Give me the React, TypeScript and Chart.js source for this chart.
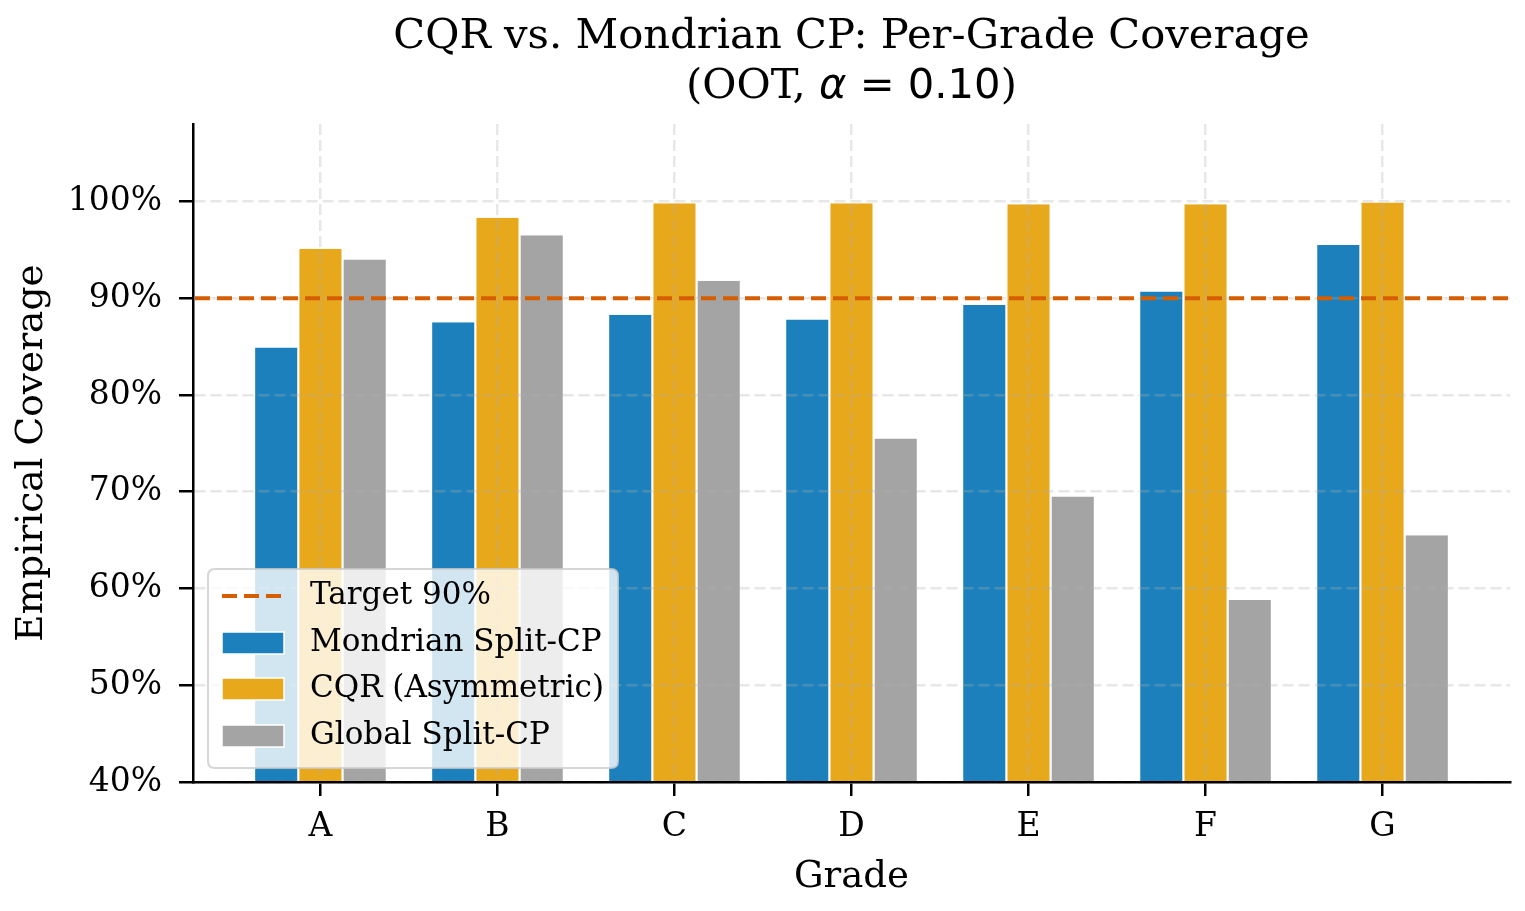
import React, { useEffect, useRef } from "react";
import { Chart, registerables } from "chart.js";

Chart.register(...registerables);

const CATEGORIES = ["A", "B", "C", "D", "E", "F", "G"];
const MONDRIAN = [84.9, 87.5, 88.3, 87.8, 89.3, 90.7, 95.5];
const CQR = [95.1, 98.3, 99.8, 99.8, 99.7, 99.7, 99.9];
const GLOBAL = [94.0, 96.5, 91.8, 75.5, 69.5, 58.8, 65.5];
const TARGET = 90;
const Y_TICKS = [40, 50, 60, 70, 80, 90, 100];
const Y_MIN = 40;
const Y_MAX = 108;
const X_PAD = 0.72;

const SERIES_NAMES = ["Target 90%", "Mondrian Split-CP", "CQR (Asymmetric)", "Global Split-CP"];
const COLORS = ["#d55e00", "#1b80bb", "#e8a81c", "#a4a4a4"];

const SERIF = "'DejaVu Serif', serif";
const SANS = "'DejaVu Sans', sans-serif";
const GRID_COLOR = "rgba(176,176,176,0.3)";
const TARGET_DASH = [15, 7];
const TARGET_WIDTH = 4;

const titlePlugin = {
  id: "customTitle",
  afterDraw(chart: any) {
    const { ctx, chartArea } = chart;
    const cx = (chartArea.left + chartArea.right) / 2;
    ctx.save();
    ctx.fillStyle = "#000";
    ctx.textBaseline = "alphabetic";
    ctx.textAlign = "left";
    ctx.font = `41.7px ${SERIF}`;
    const l1 = "CQR vs. Mondrian CP: Per-Grade Coverage";
    const w1 = ctx.measureText(l1).width;
    ctx.fillText(l1, cx - w1 / 2, 48);
    const parts = [
      { t: "(OOT, ", f: `41.7px ${SERIF}` },
      { t: "α", f: `italic 41.7px ${SANS}` },
      { t: " = 0.10", f: `41.7px ${SANS}` },
      { t: ")", f: `41.7px ${SERIF}` },
    ];
    let total = 0;
    const widths = parts.map((p) => {
      ctx.font = p.f;
      const w = ctx.measureText(p.t).width;
      total += w;
      return w;
    });
    let x = cx - total / 2;
    parts.forEach((p, i) => {
      ctx.font = p.f;
      ctx.fillText(p.t, x, 98);
      x += widths[i];
    });
    ctx.restore();
  },
};

// Target reference line, drawn above bars and grid, positioned through the y scale
const targetPlugin = {
  id: "targetLine",
  afterDraw(chart: any) {
    const { ctx, chartArea } = chart;
    const y = chart.scales.y.getPixelForValue(TARGET);
    ctx.save();
    ctx.beginPath();
    ctx.setLineDash(TARGET_DASH);
    ctx.lineWidth = TARGET_WIDTH;
    ctx.strokeStyle = COLORS[0];
    ctx.moveTo(chartArea.left + 2, y);
    ctx.lineTo(chartArea.right, y);
    ctx.stroke();
    ctx.restore();
  },
};

const legendPlugin = {
  id: "customLegend",
  afterDraw(chart: any) {
    const { ctx } = chart;
    const bx = 208, by = 569, bw = 410, bh = 199, r = 7;
    ctx.save();
    ctx.beginPath();
    ctx.moveTo(bx + r, by);
    ctx.lineTo(bx + bw - r, by);
    ctx.quadraticCurveTo(bx + bw, by, bx + bw, by + r);
    ctx.lineTo(bx + bw, by + bh - r);
    ctx.quadraticCurveTo(bx + bw, by + bh, bx + bw - r, by + bh);
    ctx.lineTo(bx + r, by + bh);
    ctx.quadraticCurveTo(bx, by + bh, bx, by + bh - r);
    ctx.lineTo(bx, by + r);
    ctx.quadraticCurveTo(bx, by, bx + r, by);
    ctx.closePath();
    ctx.fillStyle = "rgba(255,255,255,0.8)";
    ctx.fill();
    ctx.lineWidth = 2;
    ctx.strokeStyle = "rgba(204,204,204,0.8)";
    ctx.stroke();

    const rowY = [596, 643, 689, 736];
    SERIES_NAMES.forEach((name, i) => {
      const y = rowY[i];
      if (i === 0) {
        ctx.beginPath();
        ctx.setLineDash(TARGET_DASH);
        ctx.lineWidth = TARGET_WIDTH;
        ctx.strokeStyle = COLORS[0];
        ctx.moveTo(222, y);
        ctx.lineTo(282, y);
        ctx.stroke();
        ctx.setLineDash([]);
      } else {
        ctx.fillStyle = COLORS[i];
        ctx.fillRect(222, y - 11, 62, 22);
        ctx.lineWidth = 1.5;
        ctx.strokeStyle = "#fff";
        ctx.strokeRect(222, y - 11, 62, 22);
      }
      ctx.fillStyle = "#000";
      ctx.font = `31px ${SERIF}`;
      ctx.textBaseline = "middle";
      ctx.textAlign = "left";
      ctx.fillText(name, 310, y);
    });
    ctx.restore();
  },
};

export default function App() {
  const ref = useRef<HTMLCanvasElement | null>(null);

  useEffect(() => {
    document.body.style.margin = "0";
    const toPts = (arr: number[]) => arr.map((v, i) => ({ x: i, y: v }));
    const barDs = (label: string, data: number[], color: string) => ({
      type: "bar" as const,
      label,
      data: toPts(data),
      backgroundColor: color,
      borderColor: "#ffffff",
      borderWidth: { top: 0, left: 1.1, right: 1.1, bottom: 0 },
      categoryPercentage: 0.75,
      barPercentage: 1.0,
    });
    const gridOpts = {
      display: true,
      offset: false,
      color: GRID_COLOR,
      lineWidth: 2.5,
      z: 1,
      drawTicks: true,
      tickLength: 14,
      tickColor: "#000",
      tickWidth: 2.5,
      tickBorderDash: [],
    };
    const borderOpts = { display: true, color: "#000", width: 2.5, dash: [11, 5], z: 2 };
    const chart = new Chart(ref.current as HTMLCanvasElement, {
      type: "bar",
      data: {
        datasets: [
          barDs(SERIES_NAMES[1], MONDRIAN, COLORS[1]),
          barDs(SERIES_NAMES[2], CQR, COLORS[2]),
          barDs(SERIES_NAMES[3], GLOBAL, COLORS[3]),
        ],
      },
      options: {
        animation: false,
        responsive: false,
        maintainAspectRatio: false,
        devicePixelRatio: 1,
        layout: { padding: { top: 124, right: 15, left: 0, bottom: 0 } },
        plugins: {
          legend: { display: false },
          title: { display: false },
          tooltip: { enabled: false },
        },
        scales: {
          x: {
            type: "linear",
            min: -X_PAD,
            max: CATEGORIES.length - 1 + X_PAD,
            offset: false,
            afterBuildTicks: (scale: any) => {
              scale.ticks = CATEGORIES.map((_, i) => ({ value: i }));
            },
            afterFit: (scale: any) => {
              scale.height = 129;
            },
            ticks: {
              autoSkip: false,
              maxRotation: 0,
              padding: 12,
              color: "#000",
              font: { family: SERIF, size: 33 },
              callback: (v: any) => CATEGORIES[Math.round(Number(v))] ?? "",
            },
            grid: gridOpts,
            border: borderOpts,
            title: {
              display: true,
              text: "Grade",
              color: "#000",
              font: { family: SERIF, size: 37 },
              padding: { top: 0, bottom: 11 },
            },
          },
          y: {
            type: "linear",
            min: Y_MIN,
            max: Y_MAX,
            afterBuildTicks: (scale: any) => {
              scale.ticks = Y_TICKS.map((v) => ({ value: v }));
            },
            afterFit: (scale: any) => {
              scale.width = 193;
            },
            ticks: {
              padding: 17,
              color: "#000",
              font: { family: SERIF, size: 33 },
              callback: (v: any) => `${v}%`,
            },
            grid: gridOpts,
            border: borderOpts,
            title: {
              display: true,
              text: "Empirical Coverage",
              color: "#000",
              font: { family: SERIF, size: 37.5 },
              padding: { top: 10, bottom: 0 },
            },
          },
        },
      },
      plugins: [titlePlugin, targetPlugin, legendPlugin],
    } as any);
    return () => chart.destroy();
  }, []);

  return (
    <div style={{ width: 1525, height: 911, background: "#fff" }}>
      <canvas ref={ref} width={1525} height={911} style={{ display: "block" }} />
    </div>
  );
}
